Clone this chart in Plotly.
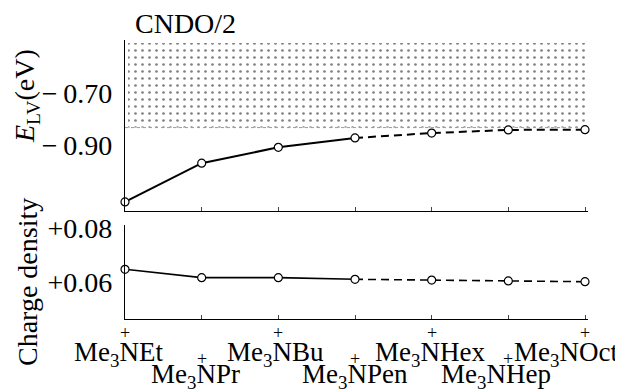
import plotly.graph_objects as go

# ---------------- data ----------------
categories = ["Me3NEt", "Me3NPr", "Me3NBu", "Me3NPen", "Me3NHex", "Me3NHep", "Me3NOct"]
category_labels = ["Me<sub>3</sub>NEt", "Me<sub>3</sub>NPr", "Me<sub>3</sub>NBu", "Me<sub>3</sub>NPen",
                   "Me<sub>3</sub>NHex", "Me<sub>3</sub>NHep", "Me<sub>3</sub>NOct"]
elv_values = [-1.119, -0.970, -0.909, -0.873, -0.854, -0.842, -0.841]      # E_LV (eV)
charge_values = [0.0647, 0.0616, 0.0616, 0.0610, 0.0607, 0.0604, 0.0601]   # charge density
elv_ticks = [-0.70, -0.90]
elv_ticktext = ["\u2212\u20090.70", "\u2212\u20090.90"]
charge_ticks = [0.08, 0.06]
charge_ticktext = ["+0.08", "+0.06"]
shade_bottom = -0.833   # lower edge of dotted region
shade_top = -0.508      # upper edge of dotted region
n_solid = 4             # first 4 points joined by solid line, rest dashed

# ---------------- layout helpers ----------------
# The page body has an 8px margin, so the figure is drawn 8px in from the window corner.
OFF = 8
W, H = 623 - OFF, 392 - OFF
def px(x):
    return (x - OFF) / W
def py(y):
    return 1 - (y - OFF) / H

FONT = "Liberation Serif"
x_idx = list(range(len(categories)))
x_max = (len(categories) - 1) * 463 / 460

fig = go.Figure()

# dotted shaded region in top panel
fig.add_trace(go.Scatter(
    x=[0.04, x_max, x_max, 0.04, 0.04], y=[shade_bottom, shade_bottom, shade_top, shade_top, shade_bottom],
    fill="toself", mode="lines", line=dict(width=0, color="rgba(0,0,0,0)"),
    fillcolor="rgba(0,0,0,0)",
    fillpattern=dict(shape=".", size=7, solidity=0.12, fgcolor="#808080", bgcolor="white"),
    xaxis="x", yaxis="y", hoverinfo="skip", showlegend=False))
fig.add_trace(go.Scatter(
    x=[0, x_max], y=[shade_bottom, shade_bottom], mode="lines",
    line=dict(color="#999999", width=1, dash="dot"),
    xaxis="x", yaxis="y", hoverinfo="skip", showlegend=False))

def add_series(values, xa, ya, lw):
    fig.add_trace(go.Scatter(
        x=x_idx[:n_solid], y=values[:n_solid], mode="lines",
        line=dict(color="black", width=lw), xaxis=xa, yaxis=ya, showlegend=False, cliponaxis=False))
    fig.add_trace(go.Scatter(
        x=x_idx[n_solid - 1:], y=values[n_solid - 1:], mode="lines",
        line=dict(color="black", width=lw, dash="8px,5px"), xaxis=xa, yaxis=ya, showlegend=False,
        cliponaxis=False))
    fig.add_trace(go.Scatter(
        x=x_idx, y=values, mode="markers",
        marker=dict(symbol="circle", size=8, color="white", line=dict(color="black", width=1.2)),
        xaxis=xa, yaxis=ya, showlegend=False, cliponaxis=False))

add_series(elv_values, "x", "y", 2.0)
add_series(charge_values, "x2", "y2", 1.6)

xcommon = dict(domain=[px(125), px(588)], range=[0, x_max], showgrid=False, zeroline=False,
               showline=True, linecolor="black", linewidth=1.3, ticks="inside", ticklen=4,
               tickcolor="#444", tickwidth=1, tickvals=x_idx, showticklabels=False, automargin=False)
ycommon = dict(showgrid=False, zeroline=False, showline=True, linecolor="black", linewidth=1.3,
               ticks="", tickfont=dict(family=FONT, size=28, color="black"), ticklabelstandoff=6,
               automargin=False)

fig.update_layout(
    template="none",
    width=W, height=H, margin=dict(l=0, r=0, t=0, b=0, pad=0, autoexpand=False),
    paper_bgcolor="white", plot_bgcolor="white",
    xaxis=dict(anchor="y", **xcommon),
    xaxis2=dict(anchor="y2", **xcommon),
    yaxis=dict(domain=[py(211), py(40)], range=[-1.154, -0.496], tickvals=elv_ticks,
               ticktext=elv_ticktext, anchor="x", **ycommon),
    yaxis2=dict(domain=[py(319), py(225)], range=[0.0463, 0.0811], tickvals=charge_ticks,
                ticktext=charge_ticktext, anchor="x2", **ycommon),
    font=dict(family=FONT, color="black"),
    showlegend=False,
)

annotations = []
ann = dict(xref="paper", yref="paper", showarrow=False, xanchor="center", yanchor="middle")
# title
annotations.append(dict(ann, text="CNDO/2", x=px(185), y=py(24),
                        font=dict(family=FONT, size=28, color="black")))
# y-axis titles
annotations.append(dict(ann, text="Charge density", x=px(27), y=py(282), textangle=-90,
                        font=dict(family=FONT, size=28, color="black")))
annotations.append(dict(ann, text="<i>E</i><sub>LV</sub>(eV)", x=px(27), y=py(96), textangle=-90,
                        font=dict(family=FONT, size=28, color="black")))
# category labels (staggered) and small "+" marks
label_rows = [0, 1, 0, 1, 0, 1, 0]
label_shift = [-7, -6, -3, 0, -2, -12, -19]
row_y = [354, 376]
plus_y = [333, 359]
for i, lab in enumerate(category_labels):
    r = label_rows[i]
    annotations.append(dict(ann, text=lab, x=x_idx[i], xref="x2", y=py(row_y[r]),
                            xshift=label_shift[i], font=dict(family=FONT, size=27, color="black")))
    annotations.append(dict(ann, text="+", x=x_idx[i], xref="x2", y=py(plus_y[r]),
                            font=dict(family=FONT, size=18, color="black")))
fig.update_layout(annotations=annotations)

fig.write_html("out.html")
